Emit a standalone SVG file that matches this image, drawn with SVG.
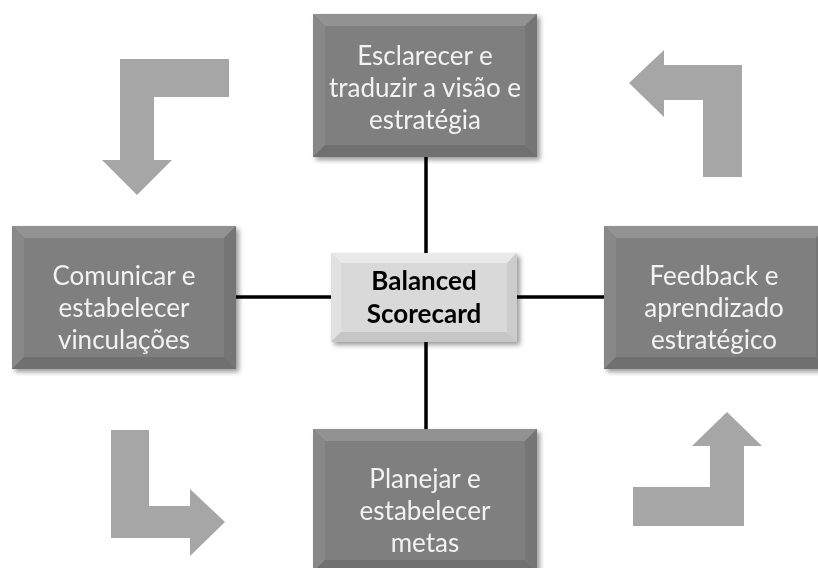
<svg xmlns="http://www.w3.org/2000/svg" xmlns:xlink="http://www.w3.org/1999/xlink" width="818" height="568" viewBox="0 0 818 568">
  <style>
    .lbl { font-family: Lato, "Liberation Sans", sans-serif; font-size: 26px; fill: #f2f2f2; text-anchor: middle; }
    .core { font-family: Lato, "Liberation Sans", sans-serif; font-size: 26px; font-weight: bold; fill: #000; text-anchor: middle; }
    .link { stroke: #000; stroke-width: 3.5; fill: none; }
    .turn { fill: #a6a6a6; }
  </style>
  <defs>
    <filter id="shadow" x="-10%" y="-10%" width="125%" height="125%">
      <feGaussianBlur in="SourceAlpha" stdDeviation="2.5"/>
      <feOffset dx="3" dy="3" result="b"/>
      <feComponentTransfer><feFuncA type="linear" slope="0.4"/></feComponentTransfer>
      <feMerge><feMergeNode/><feMergeNode in="SourceGraphic"/></feMerge>
    </filter>
    <!-- bevelled grey block, 224 x 143 -->
    <g id="block">
      <rect x="0" y="0" width="224" height="143" fill="#7f7f7f"/>
      <polygon points="0,0 224,0 212,12 12,12" fill="#929292"/>
      <polygon points="0,0 12,12 12,131 0,143" fill="#888888"/>
      <polygon points="224,0 224,143 212,131 212,12" fill="#757575"/>
      <polygon points="0,143 12,131 212,131 224,143" fill="#707070"/>
    </g>
    <!-- bevelled light hub, 186 x 89 -->
    <g id="hub">
      <rect x="0" y="0" width="186" height="89" fill="#d9d9d9"/>
      <polygon points="0,0 186,0 176,10 10,10" fill="#e9e9e9"/>
      <polygon points="0,0 10,10 10,79 0,89" fill="#e1e1e1"/>
      <polygon points="186,0 186,89 176,79 176,10" fill="#cccccc"/>
      <polygon points="0,89 10,79 176,79 186,89" fill="#c6c6c6"/>
    </g>
  </defs>

  <rect width="818" height="568" fill="#ffffff"/>

  <!-- cycle arrows -->
  <g id="cycle-arrows">
    <path class="turn" d="M229,59 L120,59 L120,160 L102,160 L137,195 L172,160 L154,160 L154,97 L229,97 Z"/>
    <path class="turn" d="M111,430 L149,430 L149,506 L190,506 L190,489 L225,522 L190,556 L190,538 L111,538 Z"/>
    <path class="turn" d="M633,487 L710,487 L710,446 L692,446 L727,412 L762,446 L744,446 L744,526 L633,526 Z"/>
    <path class="turn" d="M742,65 L664,65 L664,50 L629,83 L664,117 L664,100 L703,100 L703,177 L742,177 Z"/>
  </g>

  <!-- spokes from the hub -->
  <g id="connectors">
    <line class="link" x1="426" y1="157" x2="426" y2="253"/>
    <line class="link" x1="426" y1="342" x2="426" y2="429"/>
    <line class="link" x1="235" y1="297" x2="331" y2="297"/>
    <line class="link" x1="517" y1="297" x2="604" y2="297"/>
  </g>

  <g id="node-top" filter="url(#shadow)">
    <use xlink:href="#block" transform="translate(313,14)"/>
    <text class="lbl" x="425" y="65">Esclarecer e</text>
    <text class="lbl" x="425" y="97">traduzir a visão e</text>
    <text class="lbl" x="425" y="129">estratégia</text>
  </g>

  <g id="node-left" filter="url(#shadow)">
    <use xlink:href="#block" transform="translate(12,226)"/>
    <text class="lbl" x="124" y="285">Comunicar e</text>
    <text class="lbl" x="124" y="317">estabelecer</text>
    <text class="lbl" x="124" y="349">vinculações</text>
  </g>

  <g id="node-right" filter="url(#shadow)">
    <use xlink:href="#block" transform="translate(604,226)"/>
    <text class="lbl" x="714" y="285">Feedback e</text>
    <text class="lbl" x="714" y="317">aprendizado</text>
    <text class="lbl" x="714" y="349">estratégico</text>
  </g>

  <g id="node-bottom" filter="url(#shadow)">
    <use xlink:href="#block" transform="translate(313,429)"/>
    <text class="lbl" x="425" y="488">Planejar e</text>
    <text class="lbl" x="425" y="520">estabelecer</text>
    <text class="lbl" x="425" y="552">metas</text>
  </g>

  <g id="node-center" filter="url(#shadow)">
    <use xlink:href="#hub" transform="translate(331,253)"/>
    <text class="core" x="424" y="290">Balanced</text>
    <text class="core" x="424" y="323">Scorecard</text>
  </g>
</svg>
